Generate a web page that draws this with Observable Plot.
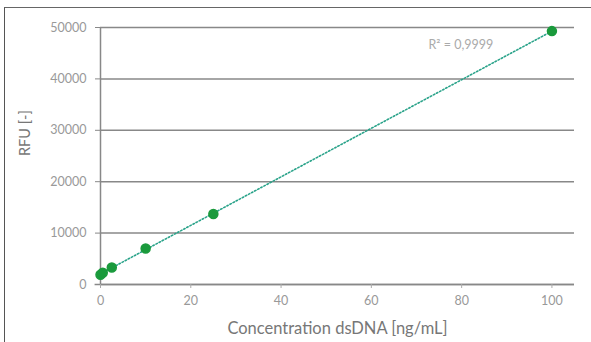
<!DOCTYPE html>
<html><head><meta charset="utf-8">
<script src="https://cdn.jsdelivr.net/npm/d3@7"></script>
<script src="https://cdn.jsdelivr.net/npm/@observablehq/plot@0.6"></script>
<style>
html,body{margin:0;padding:0;background:#fff;}
#wrap{position:relative;width:591px;height:342px;overflow:hidden;}
#frame{position:absolute;left:4px;top:7px;width:600px;height:400px;border-left:1.5px solid #555;border-top:1.5px solid #666;}
#chart{position:absolute;left:0;top:0;}
</style></head>
<body><div id="wrap"><div id="frame"></div><div id="chart"></div></div>
<script>
const concentration = [0, 0.5, 2.5, 10, 25, 100];
const rfu = [1900, 2300, 3300, 7000, 13700, 49300];
const yTicks = [0, 10000, 20000, 30000, 40000, 50000];
const xTicks = [0, 20, 40, 60, 80, 100];
const r2Label = "R² = 0,9999";

const data = concentration.map((c, i) => ({c, v: rfu[i]}));
const font = "Lato, 'Open Sans', sans-serif";
const plot = Plot.plot({
  width: 591, height: 342,
  marginLeft: 100, marginRight: 17, marginTop: 27, marginBottom: 58,
  style: {fontFamily: font, background: "transparent", color: "#999"},
  x: {domain: [0, 105], ticks: xTicks, label: null},
  y: {domain: [0, 50000], ticks: yTicks, label: null},
  marks: [
    Plot.gridY(yTicks, {stroke: "#888", strokeOpacity: 1, strokeWidth: 1.5}),
    Plot.ruleX([0], {stroke: "#888", strokeWidth: 1.5, y1: 0, y2: 50000}),
    Plot.ruleY([0], {stroke: "#888", strokeWidth: 1.5, x1: -1.2, x2: 105}),
    Plot.axisY(yTicks, {tickSize: 5, tickPadding: 9, fontSize: 12.5, fill: "#999", stroke: "#888", tickFormat: d => String(d)}),
    Plot.axisX(xTicks, {tickSize: 4, tickPadding: 8, fontSize: 12.5, fill: "#999", stroke: "#aaa", tickFormat: d => String(d)}),
    Plot.linearRegressionY(data, {x: "c", y: "v", ci: 0, stroke: "#2aa38a", strokeWidth: 1.6, strokeDasharray: "1.5,2"}),
    Plot.dot(data, {x: "c", y: "v", r: 4.5, fill: "#1a9a3c", stroke: "#1a9a3c"}),
    Plot.text([r2Label], {frameAnchor: "top-right", dx: -146, dy: 17, lineAnchor: "middle", fontSize: 12.5, fill: "#aaa", textAnchor: "start"}),
    Plot.text(["Concentration dsDNA [ng/mL]"], {frameAnchor: "bottom", dy: 44, lineAnchor: "middle", fontSize: 16.5, fill: "#777"}),
    Plot.text(["RFU [-]"], {frameAnchor: "left", dx: -75, rotate: -90, fontSize: 14.5, fill: "#777"})
  ]
});
document.getElementById("chart").appendChild(plot);
</script></body></html>
